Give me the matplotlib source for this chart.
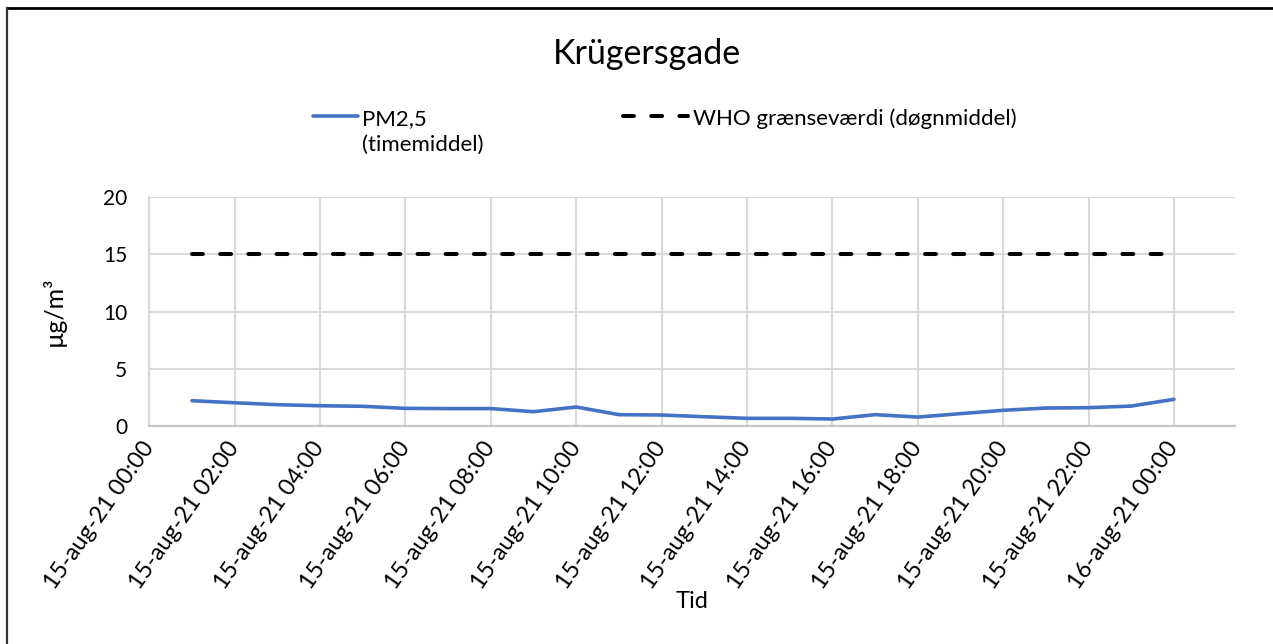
import numpy as np
import matplotlib.pyplot as plt
from matplotlib.lines import Line2D

plt.rcParams['font.family'] = ['Lato', 'DejaVu Sans']

# hours after 15-aug-21 00:00
hours = [1, 2, 3, 4, 5, 6, 7, 8, 9, 10, 11, 12,
         13, 14, 15, 16, 17, 18, 19, 20, 21, 22, 23, 24]
pm25 = [2.21, 2.03, 1.86, 1.77, 1.72, 1.54, 1.52, 1.52, 1.25, 1.66, 0.99, 0.96,
        0.81, 0.67, 0.67, 0.61, 0.99, 0.78, 1.08, 1.37, 1.57, 1.60, 1.74, 2.33]
who_limit = [15] * 24

tick_hours = [0, 2, 4, 6, 8, 10, 12, 14, 16, 18, 20, 22, 24]
tick_labels = ['15-aug-21 00:00', '15-aug-21 02:00', '15-aug-21 04:00',
               '15-aug-21 06:00', '15-aug-21 08:00', '15-aug-21 10:00',
               '15-aug-21 12:00', '15-aug-21 14:00', '15-aug-21 16:00',
               '15-aug-21 18:00', '15-aug-21 20:00', '15-aug-21 22:00',
               '16-aug-21 00:00']

W, H = 1273, 644
fig = plt.figure(figsize=(W / 100, H / 100), dpi=100)
fig.patch.set_facecolor('white')

# plot area in pixels
x0, x1, ytop, ybot = 149.3, 1235, 197, 426
ax = fig.add_axes([x0 / W, 1 - ybot / H, (x1 - x0) / W, (ybot - ytop) / H])

blue = '#4472C4'
grid_c = '#d9d9d9'

ax.plot(hours, pm25, color=blue, lw=2.6, solid_capstyle='round', zorder=3)
ax.plot(hours, who_limit, color='black', lw=2.9, linestyle=(0, (2.7, 4.3)),
        dash_capstyle='round', zorder=3)

ax.set_xlim(0, 25.43)
ax.set_ylim(0, 20)
ax.set_yticks([0, 5, 10, 15, 20])
ax.set_xticks(tick_hours)
ax.set_xticklabels(tick_labels, rotation=55, ha='right', va='center',
                   rotation_mode='anchor', fontsize=16.8)
ax.tick_params(axis='both', length=0, colors='black')
ax.tick_params(axis='x', pad=13)
ax.tick_params(axis='y', pad=16, labelsize=15)
ax.grid(True, color=grid_c, lw=1.5, zorder=0)
ax.set_axisbelow(True)
for s in ['top', 'right']:
    ax.spines[s].set_visible(False)
ax.spines['left'].set_color(grid_c)
ax.spines['left'].set_linewidth(1.5)
ax.spines['bottom'].set_color('#c8c8c8')
ax.spines['bottom'].set_linewidth(1.6)

ax.set_ylabel('µg/m³', fontsize=18, labelpad=27)
fig.text(692 / W, 1 - 602 / H, 'Tid', fontsize=17, ha='center', va='center')

# title
fig.text(646.5 / W, 1 - 64 / H, 'Krügersgade', fontsize=24.5, ha='center',
         va='baseline')

# legend drawn by hand to match the layout
ly = 1 - 116 / H
fig.add_artist(Line2D([313 / W, 358 / W], [ly, ly], color=blue, lw=2.6,
                      solid_capstyle='round'))
fig.text(362 / W, 1 - 125 / H, 'PM2,5', fontsize=16, ha='left', va='baseline')
fig.text(362 / W, 1 - 151 / H, '(timemiddel)', fontsize=16, ha='left',
         va='baseline')
fig.add_artist(Line2D([623 / W, 688 / W], [ly, ly], color='black', lw=2.9,
                      linestyle=(0, (2.7, 4.3)), dash_capstyle='round'))
fig.text(693 / W, 1 - 125 / H, 'WHO grænseværdi (døgnmiddel)', fontsize=16,
         ha='left', va='baseline')

# chart frame (only top and left edges visible)
fig.add_artist(Line2D([7 / W, 1], [1 - 8 / H, 1 - 8 / H], color='black', lw=2))
fig.add_artist(Line2D([7 / W, 7 / W], [1 - 8 / H, 0], color='#333333', lw=1.6))

fig.savefig('out.png', dpi=100)
